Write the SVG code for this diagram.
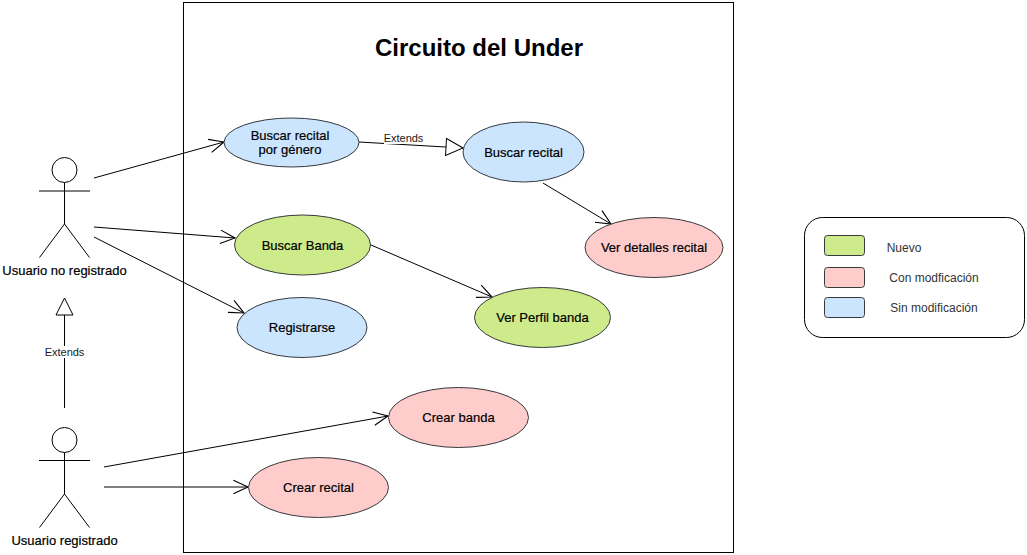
<svg xmlns="http://www.w3.org/2000/svg" width="1027" height="555" viewBox="0 0 1027 555">
<defs>
<style>
text{font-family:"Liberation Sans",Arial,sans-serif;font-size:13px;text-anchor:middle;fill:#000}
.uc{stroke:#36393d;stroke-width:1}
.blue{fill:#cce5ff}.green{fill:#cdeb8b}.pink{fill:#ffcccc}
.ln{fill:none;stroke:#000;stroke-width:1}
.name{stroke:#000;stroke-width:.2;fill:#000}
.lbl{font-size:11px;fill:#1a1a1a}
.leg{font-size:12px;fill:#333}
</style>
<marker id="open" markerUnits="userSpaceOnUse" markerWidth="18" markerHeight="18" refX="14" refY="7" orient="auto" viewBox="0 0 16 14"><path d="M1 1L14 7L1 13" fill="none" stroke="#000"/></marker>
<marker id="tri" markerUnits="userSpaceOnUse" markerWidth="20" markerHeight="20" refX="18" refY="10" orient="auto" viewBox="0 0 20 20"><path d="M1 1.500L18 10L1 18.500Z" fill="#fff" stroke="#000"/></marker>
</defs>
<rect width="1027" height="555" fill="#fff"/>
<g id="system"><rect x="183.500" y="2.500" width="550" height="550" fill="#fff" stroke="#000"/>
<text x="479" y="56" style="font-size:24px;font-weight:bold">Circuito del Under</text></g>
<g id="connectors" class="ln">
<line x1="94" y1="178" x2="224" y2="142" marker-end="url(#open)"/>
<line x1="94" y1="227" x2="235" y2="238" marker-end="url(#open)"/>
<line x1="94" y1="237" x2="244" y2="313" marker-end="url(#open)"/>
<line x1="104" y1="467" x2="388" y2="416" marker-end="url(#open)"/>
<line x1="104" y1="487" x2="248" y2="487" marker-end="url(#open)"/>
<line x1="359" y1="142" x2="463" y2="148" marker-end="url(#tri)"/>
<line x1="543" y1="183" x2="611" y2="224" marker-end="url(#open)"/>
<line x1="371" y1="245" x2="492" y2="297" marker-end="url(#open)"/>
<line x1="64.500" y1="408" x2="64.500" y2="298" marker-end="url(#tri)"/>
</g>
<g id="label-extends-1"><rect x="384" y="132" width="40" height="12" fill="#fff"/><text class="lbl" x="403.500" y="142">Extends</text></g>
<g id="label-extends-2"><rect x="44" y="346" width="41" height="12" fill="#fff"/><text class="lbl" x="64.500" y="356">Extends</text></g>
<g id="actor-no-registrado" class="ln"><circle cx="64.500" cy="170" r="12.500"/><path d="M64.500 182.500V224M39 191H90M39.500 257.500L64.500 224L89.500 257.500"/><text class="name" x="64.500" y="275">Usuario no registrado</text></g>
<g id="actor-registrado" class="ln"><circle cx="64.500" cy="440" r="12.500"/><path d="M64.500 452.500V494M39 460.500H90M39.500 527.500L64.500 494L89.500 527.500"/><text class="name" x="64.500" y="545">Usuario registrado</text></g>
<g id="uc-buscar-genero"><ellipse class="uc blue" cx="291.500" cy="142.500" rx="67.500" ry="24.500"/><text class="name" x="290" y="140">Buscar recital</text><text class="name" x="290" y="154">por género</text></g>
<g id="uc-buscar-recital"><ellipse class="uc blue" cx="523.500" cy="152" rx="60.500" ry="30"/><text class="name" x="523.500" y="157">Buscar recital</text></g>
<g id="uc-ver-detalles"><ellipse class="uc pink" cx="654" cy="247.500" rx="69" ry="30"/><text class="name" x="654" y="252">Ver detalles recital</text></g>
<g id="uc-buscar-banda"><ellipse class="uc green" cx="302.500" cy="245" rx="68" ry="30"/><text class="name" x="302.500" y="250">Buscar Banda</text></g>
<g id="uc-ver-perfil"><ellipse class="uc green" cx="542.500" cy="317.500" rx="68" ry="30"/><text class="name" x="542.500" y="322">Ver Perfil banda</text></g>
<g id="uc-registrarse"><ellipse class="uc blue" cx="302" cy="327.500" rx="65" ry="30"/><text class="name" x="302" y="332">Registrarse</text></g>
<g id="uc-crear-banda"><ellipse class="uc pink" cx="458.500" cy="417.500" rx="70" ry="30"/><text class="name" x="458.500" y="422">Crear banda</text></g>
<g id="uc-crear-recital"><ellipse class="uc pink" cx="318.500" cy="487.500" rx="70" ry="30"/><text class="name" x="318.500" y="492">Crear recital</text></g>
<g id="legend"><rect x="804.500" y="217.500" width="220" height="120" rx="18" fill="#fff" stroke="#000"/>
<rect class="uc green" x="824.500" y="235.500" width="40" height="20" rx="3"/><text class="leg" x="904" y="252">Nuevo</text>
<rect class="uc pink" x="824.500" y="267.500" width="40" height="20" rx="3"/><text class="leg" x="934" y="282">Con modficación</text>
<rect class="uc blue" x="824.500" y="297.500" width="40" height="20" rx="3"/><text class="leg" x="934" y="312">Sin modificación</text></g>
</svg>
